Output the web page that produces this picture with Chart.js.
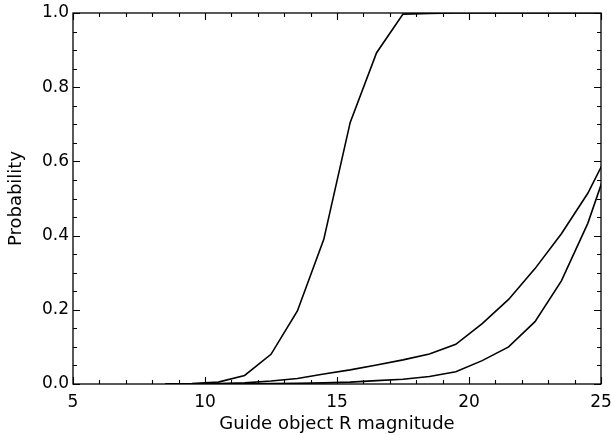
<!DOCTYPE html>
<html>
<head>
<meta charset="utf-8">
<script src="https://cdn.jsdelivr.net/npm/chart.js@4.4.1/dist/chart.umd.min.js"></script>
<style>
  html, body { margin: 0; padding: 0; background: #fff; }
  canvas { display: block; }
</style>
</head>
<body>
<canvas id="c" width="611" height="435"></canvas>
<script>
// Guide object R magnitude (sample points)
const magnitudes = [8.5, 9.5, 10.5, 11.5, 12.5, 13.5, 14.5, 15.5, 16.5, 17.5, 18.5, 19.5, 20.5, 21.5, 22.5, 23.5, 24.5, 25.5];
// Probability curves
const curveBright = [0, 0.001, 0.005, 0.023, 0.08, 0.197, 0.39, 0.705, 0.893, 0.997, 0.999, 1.0, 1.0, 1.0, 1.0, 1.0, 1.0, 1.0];
const curveMiddle = [0, 0.0005, 0.001, 0.003, 0.008, 0.015, 0.027, 0.038, 0.051, 0.065, 0.081, 0.107, 0.163, 0.228, 0.311, 0.405, 0.514, 0.654];
const curveFaint  = [0, 0, 0, 0.0005, 0.001, 0.002, 0.003, 0.005, 0.009, 0.013, 0.02, 0.033, 0.063, 0.10, 0.168, 0.278, 0.433, 0.64];

const xTickValues = [5, 10, 15, 20, 25];
const yTickValues = [0.0, 0.2, 0.4, 0.6, 0.8, 1.0];
const xTitle = 'Guide object R magnitude';
const yTitle = 'Probability';

function pts(ys) { return magnitudes.map((x, i) => ({ x: x, y: ys[i] })); }

const TICK_FONT = { family: 'DejaVu Sans', size: 17 };
const TITLE_FONT = { family: 'DejaVu Sans', size: 18 };

const frameTicks = {
  id: 'frameTicks',
  afterDatasetsDraw(chart) {
    const { ctx, chartArea: a, scales: { x, y } } = chart;
    ctx.save();
    ctx.strokeStyle = '#000';
    ctx.lineWidth = 1.3;
    ctx.strokeRect(a.left, a.top, a.right - a.left, a.bottom - a.top);
    ctx.lineWidth = 1.1;
    ctx.beginPath();
    for (let v = x.min; v <= x.max + 1e-9; v += 1) {
      const px = Math.round(x.getPixelForValue(v)) + 0.5;
      const major = Math.abs(v % 5) < 1e-9;
      const len = major ? 7 : 4;
      ctx.moveTo(px, a.bottom); ctx.lineTo(px, a.bottom - len);
      ctx.moveTo(px, a.top); ctx.lineTo(px, a.top + len);
    }
    for (let k = 0; k <= 20; k++) {
      const v = y.min + k * 0.05;
      const py = Math.round(y.getPixelForValue(v)) + 0.5;
      const major = k % 4 === 0;
      const len = major ? 7 : 4;
      ctx.moveTo(a.left, py); ctx.lineTo(a.left + len, py);
      ctx.moveTo(a.right, py); ctx.lineTo(a.right - len, py);
    }
    ctx.stroke();
    ctx.restore();
  }
};

const lineStyle = { borderColor: '#000', borderWidth: 1.6, pointRadius: 0, tension: 0, fill: false };

new Chart(document.getElementById('c'), {
  type: 'line',
  data: {
    datasets: [
      Object.assign({ label: 'bright', data: pts(curveBright) }, lineStyle),
      Object.assign({ label: 'middle', data: pts(curveMiddle) }, lineStyle),
      Object.assign({ label: 'faint', data: pts(curveFaint) }, lineStyle)
    ]
  },
  options: {
    responsive: false,
    animation: false,
    devicePixelRatio: 1,
    layout: { padding: { top: 13, right: 10, left: 0, bottom: 0 } },
    plugins: { legend: { display: false }, tooltip: { enabled: false } },
    scales: {
      x: {
        type: 'linear',
        min: 5, max: 25,
        afterBuildTicks: (s) => { s.ticks = xTickValues.map(v => ({ value: v })); },
        afterFit: (s) => { s.height = 51; s.paddingLeft = 0; s.paddingRight = 0; },
        grid: { display: false, drawTicks: false },
        border: { display: false },
        ticks: { color: '#000', font: TICK_FONT, padding: 8, maxRotation: 0, autoSkip: false,
                 callback: (v) => String(v) },
        title: { display: true, text: xTitle, color: '#000', font: TITLE_FONT, padding: { top: 0, bottom: 0 } }
      },
      y: {
        type: 'linear',
        min: 0, max: 1,
        afterBuildTicks: (s) => { s.ticks = yTickValues.map(v => ({ value: v })); },
        afterFit: (s) => { s.width = 73; s.paddingTop = 0; s.paddingBottom = 0; },
        grid: { display: false, drawTicks: false },
        border: { display: false },
        ticks: { color: '#000', font: TICK_FONT, padding: 4, autoSkip: false,
                 callback: (v) => Number(v).toFixed(1) },
        title: { display: true, text: yTitle, color: '#000', font: TITLE_FONT, padding: { top: 6, bottom: 0 } }
      }
    }
  },
  plugins: [frameTicks]
});
</script>
</body>
</html>
